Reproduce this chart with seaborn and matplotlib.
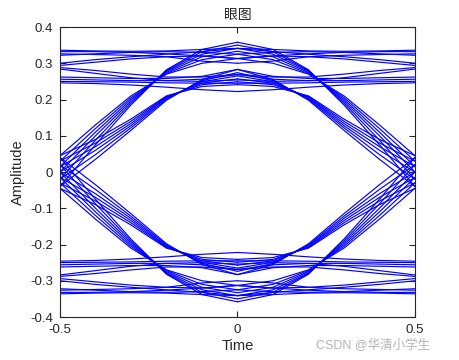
import pandas as pd
import seaborn as sns
import matplotlib.pyplot as plt

# sample times of one half symbol (edge -> centre)
half_time = [-0.5, -0.4, -0.3, -0.2, -0.1, 0.0]

# upper-left half traces (amplitude at half_time)
steep_rise = [
    [-0.040, 0.075, 0.185, 0.282, 0.338, 0.358],
    [-0.020, 0.088, 0.190, 0.280, 0.332, 0.350],
    [0.000, 0.100, 0.195, 0.278, 0.325, 0.341],
    [0.015, 0.110, 0.200, 0.275, 0.318, 0.333],
    [0.030, 0.120, 0.205, 0.272, 0.310, 0.325],
    [0.045, 0.130, 0.210, 0.270, 0.300, 0.313],
]
shallow_rise = [
    [-0.040, 0.035, 0.115, 0.198, 0.255, 0.283],
    [-0.020, 0.048, 0.122, 0.201, 0.252, 0.274],
    [0.000, 0.060, 0.128, 0.204, 0.249, 0.265],
    [0.015, 0.070, 0.134, 0.206, 0.245, 0.257],
    [0.030, 0.080, 0.140, 0.208, 0.241, 0.249],
    [0.045, 0.090, 0.146, 0.210, 0.236, 0.241],
]
flat_high = [
    [0.336, 0.334, 0.333, 0.334, 0.338, 0.341],
    [0.332, 0.332, 0.330, 0.326, 0.320, 0.313],
    [0.326, 0.324, 0.322, 0.318, 0.306, 0.300],
    [0.322, 0.326, 0.330, 0.332, 0.330, 0.325],
    [0.300, 0.310, 0.318, 0.325, 0.332, 0.341],
    [0.294, 0.303, 0.312, 0.318, 0.320, 0.313],
    [0.288, 0.280, 0.270, 0.262, 0.262, 0.269],
    [0.284, 0.272, 0.260, 0.252, 0.250, 0.254],
    [0.262, 0.260, 0.258, 0.258, 0.264, 0.283],
    [0.256, 0.254, 0.252, 0.252, 0.256, 0.269],
    [0.250, 0.249, 0.248, 0.246, 0.245, 0.245],
    [0.246, 0.244, 0.240, 0.234, 0.227, 0.222],
]

# mirror each half trace into the four quadrants of the eye
rows = []
trace = 0
for group in (steep_rise, shallow_rise, flat_high):
    for amp in group:
        for sx in (1, -1):
            for sy in (1, -1):
                for t, a in zip(half_time, amp):
                    rows.append((trace, sx * t, sy * a))
                trace += 1
df = pd.DataFrame(rows, columns=["trace", "Time", "Amplitude"])

sns.set_style("ticks")
plt.rcParams["font.family"] = ["Liberation Sans", "Noto Sans CJK SC"]

fig = plt.figure(figsize=(4.6, 3.6), dpi=100)
ax = fig.add_axes([0.1304, 0.1194, 0.7717, 0.8056])
sns.lineplot(data=df, x="Time", y="Amplitude", units="trace", estimator=None,
             color="#0000ff", lw=0.85, ax=ax)

ax.set_xlim(-0.5, 0.5)
ax.set_ylim(-0.4, 0.4)
ax.set_xticks([-0.5, 0, 0.5])
ax.set_xticklabels(["-0.5", "0", "0.5"])
yt = [-0.4, -0.3, -0.2, -0.1, 0, 0.1, 0.2, 0.3, 0.4]
ax.set_yticks(yt)
ax.set_yticklabels(["-0.4", "-0.3", "-0.2", "-0.1", "0", "0.1", "0.2", "0.3", "0.4"])
ax.tick_params(direction="in", top=True, right=True, length=4, width=0.8,
               labelsize=9.5, colors="#262626", pad=5)
for s in ax.spines.values():
    s.set_visible(True)
    s.set_color("#262626")
    s.set_linewidth(0.8)
ax.set_xlabel("Time", fontsize=10.5, labelpad=2)
ax.set_ylabel("Amplitude", fontsize=10.5, labelpad=4)
ax.set_title("眼图", fontsize=10, color="#262626", pad=6,
             fontfamily=["Noto Sans CJK SC"])

fig.text(0.935, 0.04, "CSDN @华清小学生", ha="right", va="center",
         fontsize=9, color="#b4b4b4")

fig.savefig("out.png", dpi=100, facecolor="white")
